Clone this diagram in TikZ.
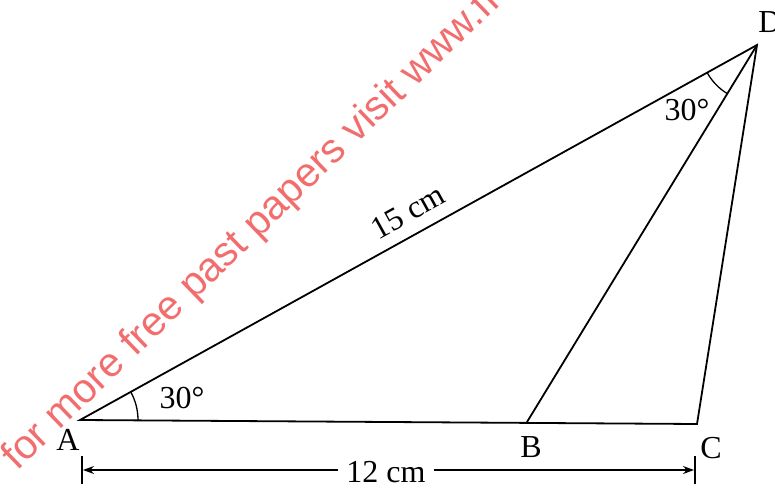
\documentclass[tikz,border=0pt]{standalone}
\usepackage{fontspec}
\setmainfont{Liberation Serif}
\newfontfamily\wmfont{Liberation Sans}
\usetikzlibrary{arrows.meta,calc}
\definecolor{wmred}{RGB}{242,110,110}
\begin{document}
\begin{tikzpicture}[x=1pt,y=1pt,
  edge/.style={line width=1.8pt, line cap=round},
  lbl/.style={font=\fontsize{32}{32}\selectfont, inner sep=0pt},
  dim/.style={line width=1.3pt},
  tick/.style={line width=1.3pt}]
\useasboundingbox (0,0) rectangle (775,490);
\clip (0,0) rectangle (775,490);
% points
\coordinate (A) at (80,70);
\coordinate (B) at (527,68);
\coordinate (C) at (697,66);
\coordinate (D) at (757,445);
% triangle
\draw[edge] (A) -- (C) -- (D) -- cycle;
\draw[edge] (B) -- (D);
% angle arcs
\draw[line width=1.3pt] ($(A)+(0:58)$) arc[start angle=0, end angle=29, radius=58];
\draw[line width=1.3pt] ($(D)+(209:57)$) arc[start angle=209, end angle=238.6, radius=57];
% labels
\node[lbl] (lA) at (68,50) {A};
\node[lbl] (lB) at (531,43) {B};
\node[lbl] (lC) at (711,42) {C};
\node[lbl] (lD) at (770,468) {D};
\node[lbl] (a1) at (182,92) {30°};
\node[lbl] (a2) at (687,380) {30°};
\node[lbl, rotate=29] (l15) at (408,278) {15 cm};
% dimension line
\coordinate (dl) at (83,20);
\coordinate (dr) at (694,20);
\node[lbl] (l12) at (386,18) {12 cm};
\draw[tick] (82,6) -- (82,34);
\draw[tick] (695,6) -- (695,34);
\draw[dim,-{Stealth[length=11pt,width=8pt]}] (l12.west) ++(-8,2) -- (dl);
\draw[dim,-{Stealth[length=11pt,width=8pt]}] (l12.east) ++(8,2) -- (dr);
% watermark
\node[anchor=base west, rotate=44, text=wmred, font=\wmfont\fontsize{41}{41}\selectfont, inner sep=0pt] (wm) at (17,18) {for more free past papers visit www.freeexampapers.com};
\end{tikzpicture}
\end{document}
